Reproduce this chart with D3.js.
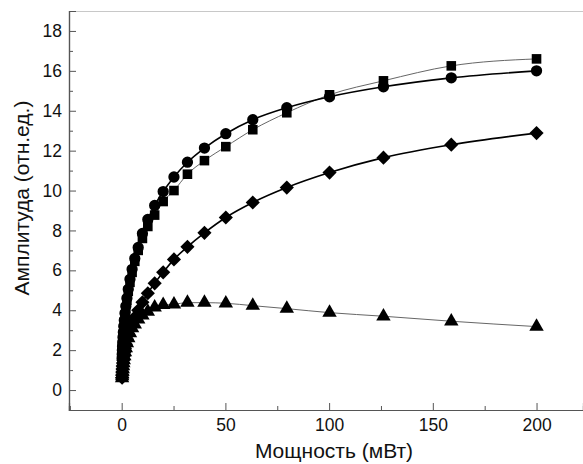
<!DOCTYPE html>
<html lang="ru">
<head>
<meta charset="UTF-8">
<title>Амплитуда</title>
<script src="https://d3js.org/d3.v7.min.js"></script>
<style>
  body { margin: 0; background: #fff; }
  text { font-family: "Liberation Sans", Arial, sans-serif; fill: #111; }
</style>
</head>
<body>
<script>
// power values (mW), same for every series
var power = [200, 158.9, 126.2, 100.2, 79.6, 63.2, 50.2, 39.9, 31.7, 25.2, 20.0, 15.9,
  12.6, 10.0, 7.96, 6.32, 5.02, 3.99, 3.17, 2.52, 2.0, 1.59, 1.26, 1.0, 0.8, 0.63, 0.5,
  0.4, 0.32, 0.25, 0.2];

var circles = [16.0, 15.65, 15.2, 14.7, 14.15, 13.55, 12.85, 12.13, 11.42, 10.68, 9.95, 9.25,
  8.55, 7.85, 7.15, 6.6, 6.05, 5.55, 5.05, 4.6, 4.2, 3.85, 3.5, 3.2, 2.9, 2.65, 2.4,
  2.2, 2.0, 1.8, 1.6];
var squares = [16.6, 16.25, 15.5, 14.8, 13.9, 13.05, 12.2, 11.5, 10.82, 10.0, 9.45, 8.77,
  8.2, 7.6, 7.0, 6.45, 5.9, 5.4, 4.95, 4.5, 4.1, 3.75, 3.4, 3.1, 2.8, 2.55, 2.3,
  2.1, 1.9, 1.7, 1.5];
var diamonds = [12.88, 12.3, 11.65, 10.9, 10.15, 9.4, 8.65, 7.88, 7.18, 6.55, 5.9, 5.35,
  4.85, 4.4, 4.0, 3.65, 3.35, 3.05, 2.8, 2.55, 2.3, 2.1, 1.9, 1.7, 1.5, 1.35, 1.2,
  1.05, 0.9, 0.75, 0.62];
var triangles = [3.18, 3.45, 3.7, 3.88, 4.08, 4.23, 4.35, 4.38, 4.38, 4.3, 4.27, 4.15,
  3.93, 3.75, 3.55, 3.3, 3.1, 2.85, 2.6, 2.35, 2.1, 1.9, 1.7, 1.5, 1.35, 1.2, 1.05,
  0.92, 0.8, 0.7, 0.6];

var xTicks = [0, 50, 100, 150, 200];
var xMinor = [-25, 25, 75, 125, 175, 225];
var yTicks = [0, 2, 4, 6, 8, 10, 12, 14, 16, 18];
var yMinor = [-1, 1, 3, 5, 7, 9, 11, 13, 15, 17];

var width = 583, height = 464;
var padL = 69, padR = 583, padT = 11, padB = 410;

var svg = d3.select("body").append("svg").attr("width", width).attr("height", height);

var x = d3.scaleLinear().domain([-25.4, 222.4]).range([padL, padR]);
var y = d3.scaleLinear().domain([-1, 19]).range([padB, padT]);

// frame
svg.append("line").attr("x1", padL).attr("x2", padR).attr("y1", padT + 0.5).attr("y2", padT + 0.5)
  .attr("stroke", "#c8c8c8").attr("stroke-width", 1);

var xAxis = svg.append("g").attr("transform", "translate(0," + padB + ")")
  .call(d3.axisBottom(x).tickValues(xTicks).tickSize(-7).tickPadding(9).tickFormat(d3.format("d")));
var xAxisMinor = svg.append("g").attr("transform", "translate(0," + padB + ")")
  .call(d3.axisBottom(x).tickValues(xMinor.filter(function(d){ return x(d) > padL && x(d) < padR; })).tickSize(-4).tickFormat(""));
var yAxis = svg.append("g").attr("transform", "translate(" + padL + ",0)")
  .call(d3.axisLeft(y).tickValues(yTicks).tickSize(-7).tickPadding(7).tickFormat(d3.format("d")));
var yAxisMinor = svg.append("g").attr("transform", "translate(" + padL + ",0)")
  .call(d3.axisLeft(y).tickValues(yMinor.filter(function(d){ return y(d) < padB; })).tickSize(-4).tickFormat(""));

[xAxis, xAxisMinor, yAxis, yAxisMinor].forEach(function(g) {
  g.select(".domain").attr("stroke", "#555").attr("stroke-width", 1.2);
  g.selectAll(".tick line").attr("stroke", "#555");
  g.selectAll("text").style("font-size", "17.5px").attr("fill", "#111")
    .style("font-family", "'Liberation Sans', Arial, sans-serif");
});

// axis titles
svg.append("text").attr("x", 334).attr("y", 458).attr("text-anchor", "middle")
  .style("font-size", "21px").text("Мощность (мВт)");
svg.append("text").attr("transform", "translate(29,198) rotate(-90)").attr("text-anchor", "middle")
  .style("font-size", "21px").text("Амплитуда (отн.ед.)");

var series = [
  { name: "squares", values: squares, stroke: "#666", width: 1, symbol: d3.symbolSquare, size: 92, rot: 0 },
  { name: "circles", values: circles, stroke: "#000", width: 1.6, symbol: d3.symbolCircle, size: 100, rot: 0 },
  { name: "diamonds", values: diamonds, stroke: "#000", width: 1.6, symbol: d3.symbolSquare, size: 100, rot: 45 },
  { name: "triangles", values: triangles, stroke: "#666", width: 1, symbol: d3.symbolTriangle, size: 90, rot: 0 }
];

var line = d3.line().x(function(d) { return x(d[0]); }).y(function(d) { return y(d[1]); })
  .curve(d3.curveMonotoneX);

series.forEach(function(s) {
  var pts = power.map(function(p, i) { return [p, s.values[i]]; }).reverse();
  svg.append("path").datum(pts).attr("d", line)
    .attr("fill", "none").attr("stroke", s.stroke).attr("stroke-width", s.width);
});

series.forEach(function(s) {
  var pts = power.map(function(p, i) { return [p, s.values[i]]; });
  svg.append("g").selectAll("path").data(pts).enter().append("path")
    .attr("transform", function(d) { return "translate(" + x(d[0]) + "," + y(d[1]) + ") rotate(" + s.rot + ")"; })
    .attr("d", d3.symbol().type(s.symbol).size(s.size))
    .attr("fill", "#000");
});
</script>
</body>
</html>
